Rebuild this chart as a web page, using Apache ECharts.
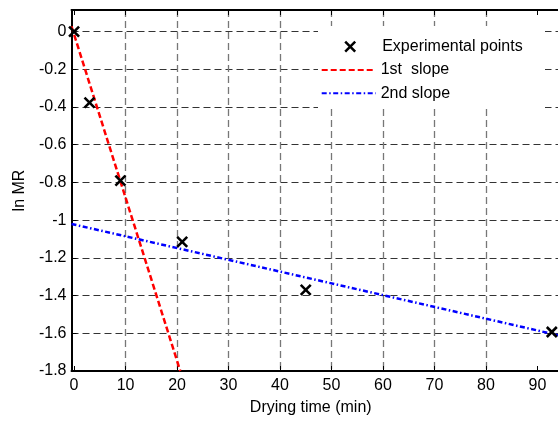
<!DOCTYPE html>
<html lang="en">
<head>
<meta charset="UTF-8">
<title>ln MR vs drying time</title>
<script src="https://cdn.jsdelivr.net/npm/echarts@6/dist/echarts.min.js"></script>
<style>html,body{margin:0;padding:0;background:#fff;}</style>
</head>
<body>
<div id="main" style="width:558px;height:421px;"></div>
<script>
// data
var xTicks = [0, 10, 20, 30, 40, 50, 60, 70, 80, 90];
var yTicks = [0, -0.2, -0.4, -0.6, -0.8, -1, -1.2, -1.4, -1.6, -1.8];
var expTime = [0, 3, 9, 21, 45, 92.8];
var expLnMR = [0, -0.377, -0.79, -1.115, -1.37, -1.593];
var slope1Time = [-0.5, 20.63];
var slope1LnMR = [0.028, -1.8];
var slope2Time = [-0.5, 94];
var slope2LnMR = [-1.02, -1.61];

function pairs(xs, ys) {
    return xs.map(function (x, i) { return [x, ys[i]]; });
}

var font = 'Liberation Sans, Arial, sans-serif';
var crossIcon = 'path://M0,0L10,10M10,0L0,10';

var myChart = echarts.init(document.getElementById('main'));

var xBase = {
    type: 'value',
    min: -0.5,
    max: 94,
    axisLine: { show: true, onZero: false, lineStyle: { color: '#000', width: 2 } },
    axisTick: { show: true, inside: true, length: 5, customValues: xTicks, lineStyle: { color: '#000' } }
};

var option = {
    animation: false,
    textStyle: { fontFamily: font },
    grid: { left: 71.5, top: 10, right: -3.5, bottom: 43.3, containLabel: false },
    graphic: [{
        type: 'rect', left: 318, top: 26, z: 5,
        shape: { width: 227, height: 82 },
        style: { fill: '#fff' }
    }],
    legend: [{
        z: 10,
        orient: 'vertical', left: 320.7, top: 38.7, padding: 0,
        itemWidth: 54, itemHeight: 10,
        textStyle: { fontSize: 16, color: '#000', fontFamily: font },
        data: [{
            name: 'Experimental points',
            icon: 'path://M0,0M54,10M22,0L32,10M32,0L22,10',
            itemStyle: { color: 'none', borderColor: '#000', borderWidth: 2.5 }
        }]
    }, {
        z: 10,
        orient: 'vertical', left: 320.7, top: 62, padding: 0,
        itemWidth: 54, itemHeight: 10, itemGap: 7.3,
        itemStyle: { color: 'transparent', borderWidth: 0, opacity: 0 },
        textStyle: { fontSize: 16, color: '#000', fontFamily: font },
        data: ['1st  slope', '2nd slope']
    }],
    xAxis: [
        echarts.util.merge({
            position: 'bottom',
            name: 'Drying time (min)',
            nameLocation: 'middle',
            nameGap: 29,
            nameTextStyle: { fontSize: 16, color: '#000', fontFamily: font, padding: [0, 8, 0, 0] },
            axisLabel: { customValues: xTicks, fontSize: 16, color: '#000', margin: 7, fontFamily: font },
            splitLine: {
                show: true, showMinLine: false, showMaxLine: false,
                lineStyle: { color: '#777', width: 1.3, type: [7, 4] }
            }
        }, xBase, true),
        echarts.util.merge({
            position: 'top',
            axisLabel: { show: false },
            splitLine: { show: false }
        }, xBase, true)
    ],
    yAxis: {
        type: 'value',
        min: -1.8,
        max: 0.1146,
        name: 'ln MR',
        nameLocation: 'middle',
        nameGap: 44,
        nameTextStyle: { fontSize: 16, color: '#000', fontFamily: font },
        axisLine: { show: true, onZero: false, lineStyle: { color: '#000', width: 2 } },
        axisTick: { show: true, inside: true, length: 5, customValues: yTicks, lineStyle: { color: '#000' } },
        axisLabel: { customValues: yTicks, fontSize: 16, color: '#000', margin: 5, fontFamily: font },
        splitLine: { show: true, lineStyle: { color: '#333', width: 1, type: [7, 4] } }
    },
    series: [{
        name: 'Experimental points',
        type: 'scatter',
        symbol: crossIcon,
        symbolSize: 10,
        itemStyle: { color: 'none', borderColor: '#000', borderWidth: 2.6, opacity: 1 },
        data: pairs(expTime, expLnMR),
        z: 4
    }, {
        name: '1st  slope',
        type: 'line',
        showSymbol: false,
        symbol: 'none',
        lineStyle: { color: '#ff0000', width: 2.5, type: [6, 3] },
        itemStyle: { color: '#ff0000' },
        data: pairs(slope1Time, slope1LnMR)
    }, {
        name: '2nd slope',
        type: 'line',
        showSymbol: false,
        symbol: 'none',
        lineStyle: { color: '#0000ff', width: 2.5, type: [5, 2.5, 1.5, 2.5] },
        itemStyle: { color: '#0000ff' },
        data: pairs(slope2Time, slope2LnMR)
    }]
};

myChart.setOption(option);
</script>
</body>
</html>
